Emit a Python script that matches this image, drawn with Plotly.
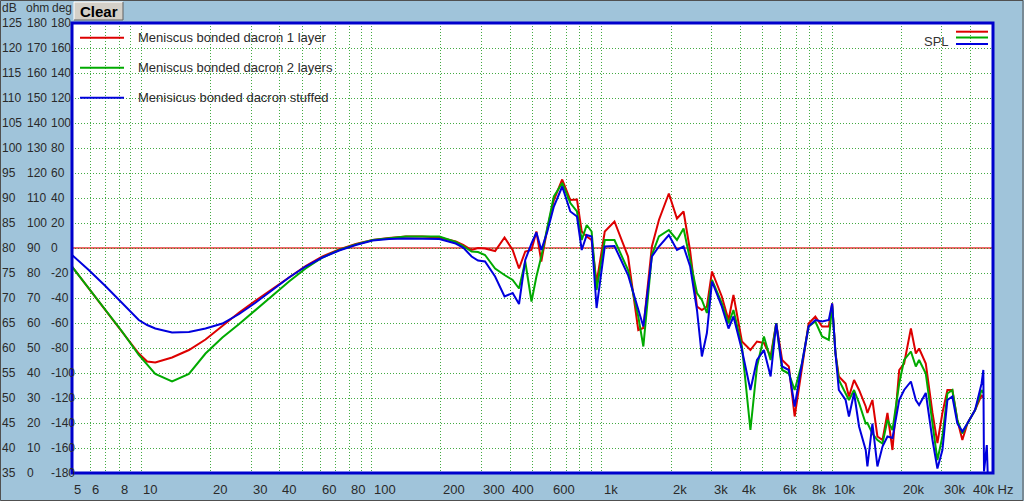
import numpy as np
import plotly.graph_objects as go

# ---------------- data ----------------
freqs = [5, 5.91, 6.98, 8.25, 9.75, 10.6, 11.5, 13.6, 16.1, 19.0, 22.5, 26.6, 31.4, 37.1,
         43.8, 51.7, 61.2, 72.3, 85.4, 101, 119, 141, 166, 197, 232,
         250, 272, 290, 311, 344, 378, 410, 437, 465, 495, 520, 546, 580, 619,
         673, 730, 780, 818, 860, 903, 949, 1030, 1135, 1300, 1440, 1515, 1650, 1770,
         1955, 2120, 2265, 2420, 2590, 2720, 2860, 3010, 3320, 3550, 3730, 4060, 4420,
         4720, 5060, 5410, 5720, 6070, 6490, 6880, 7400, 7910, 8460, 9050, 9680, 10010,
         10350, 10700, 11450, 11840, 12460, 13100, 14000, 14240, 14970, 15740, 16560,
         17400, 18300, 19570, 20560, 22000, 23110, 23880, 25530, 27300, 28680, 30150,
         31690, 33300, 35000, 36800, 38700, 41800, 44600, 45400, 45700, 47000, 47400]

one_layer = [76.3, 71.9, 67.6, 63.3, 58.9, 57.3, 57.1, 58.1, 59.6, 61.7, 64.4, 67.1, 69.5,
             71.8, 74.1, 76.4, 78.3, 79.7, 80.8, 81.6, 82.0, 82.3, 82.3, 82.1, 81.3,
             80.6, 79.6, 80.0, 79.9,
             79.4, 82.1, 79.6, 75.9, 79.3, 79.6, 83.3, 77.3, 83.9, 89.6, 93.7, 89.6, 89.7,
             83.3, 82.3, 81.6, 73.0, 83.3, 85.3, 78.3, 63.6, 64.0, 80.3, 85.6, 90.9, 85.9,
             87.3, 79.3, 68.3, 67.6, 68.3, 75.3, 70.3, 65.6, 70.6, 61.3, 59.6, 61.3, 61.0,
             58.3, 64.9, 57.6, 56.3, 46.3, 55.6, 64.9, 66.3, 64.3, 64.3, 68.9, 58.9, 54.3,
             52.9, 50.3, 53.6, 51.6, 48.3, 47.0, 49.6, 42.3, 41.6, 47.0, 39.6, 55.6, 56.9,
             63.9, 58.9, 59.9, 56.9, 47.0, 41.0, 47.0, 51.6, 51.6, 45.6, 41.6, 44.9, 47.6,
             50.6, 50.0, None, None, None]

two_layers = [76.3, 71.9, 67.7, 63.3, 58.6, 56.6, 54.8, 53.3, 54.8, 58.9, 62.1, 64.8, 67.6,
              70.4, 73.3, 75.9, 78.1, 79.6, 80.7, 81.6, 82.0, 82.3, 82.3, 82.3, 81.2,
              80.4, 79.3, 79.2, 78.6,
              75.9, 74.6, 73.6, 71.9, 77.3, 69.3, 74.3, 78.3, 84.3, 90.3, 93.0, 89.0, 87.3,
              81.6, 84.6, 83.3, 71.6, 81.6, 81.6, 75.6, 66.3, 60.3, 78.6, 82.3, 83.6, 81.6,
              83.9, 77.6, 71.0, 69.6, 67.0, 73.6, 69.0, 64.9, 67.6, 60.3, 43.6, 56.3, 62.3,
              57.6, 64.9, 55.6, 54.9, 51.6, 56.9, 64.3, 65.3, 62.3, 61.6, 68.5, 58.9, 53.6,
              51.0, 49.6, 51.6, 49.0, 44.9, 45.0, 42.9, 41.6, 40.9, 45.6, 43.6, 52.9, 57.6,
              59.3, 56.3, 57.6, 54.9, 44.3, 37.6, 42.3, 50.9, 51.6, 45.6, 42.9, 44.9, 47.6,
              51.6, 51.0, None, None, None]

stuffed = [78.6, 75.6, 72.4, 69.1, 65.6, 64.6, 63.9, 63.1, 63.2, 63.9, 64.9, 66.8, 69.1,
           71.6, 74.1, 76.3, 78.1, 79.5, 80.6, 81.5, 81.8, 81.9, 81.9, 81.8, 80.9,
           80.1, 78.3, 77.5, 77.3,
           74.3, 70.3, 71.0, 68.8, 77.6, 80.9, 83.1, 79.6, 83.3, 88.3, 92.3, 87.3, 86.3,
           79.6, 82.6, 82.3, 68.0, 80.3, 80.4, 74.6, 67.6, 64.3, 78.3, 80.3, 82.6, 79.6,
           80.3, 76.3, 67.6, 58.3, 63.0, 73.3, 68.3, 63.9, 66.3, 59.6, 51.6, 57.6, 59.6,
           54.3, 64.9, 56.3, 55.6, 48.3, 56.9, 64.3, 65.6, 65.3, 65.6, 68.9, 58.9, 51.6,
           49.6, 46.3, 51.0, 44.3, 39.6, 36.3, 44.9, 36.3, 40.3, 42.3, 42.0, 49.6, 51.6,
           53.3, 49.6, 48.6, 51.0, 41.6, 35.9, 39.6, 49.6, 50.3, 44.9, 43.3, 44.9, 47.6,
           52.9, 55.6, 35.3, 40.6, 35.2]

series_names = ["Meniscus bonded dacron 1 layer",
                "Meniscus bonded dacron 2 layers",
                "Menisicus bonded dacron stuffed"]
series_colors = ["#DD0000", "#00AA00", "#0000DD"]

db_ticks = list(range(35, 126, 5))
ohm_ticks = list(range(0, 181, 10))
deg_ticks = list(range(-180, 181, 20))

x_label_vals = [5, 6, 8, 10, 20, 30, 40, 60, 80, 100, 200, 300, 400, 600, 1000, 2000,
                3000, 4000, 6000, 8000, 10000, 20000, 30000, 40000]
x_label_text = ["5", "6", "8", "10", "20", "30", "40", "60", "80", "100", "200", "300",
                "400", "600", "1k", "2k", "3k", "4k", "6k", "8k", "10k", "20k", "30k",
                "40k Hz"]

REF_DB = 80
X_MIN, X_MAX = 5, 50000
Y_MIN, Y_MAX = 35, 125

# ---------------- layout geometry ----------------
W, H = 1024, 501
L, R, T, B = 72, 993, 23, 473
BG = "#A0C4DA"
FONT = "Liberation Sans, Arial, sans-serif"
TXT = "#2a2a2a"


def px(x):
    return (x - L) / (R - L)


def py(y):
    return (B - y) / (B - T)


grid_x = []
for dec in [1, 10, 100, 1000, 10000]:
    for m in range(1, 10):
        v = m * dec
        if X_MIN <= v <= X_MAX:
            grid_x.append(v)

fig = go.Figure()
series = [one_layer, two_layers, stuffed]
for name, ys, col in zip(series_names, series, series_colors):
    fig.add_trace(go.Scatter(x=freqs, y=ys, mode="lines", name=name,
                             line=dict(color=col, width=2), connectgaps=False,
                             showlegend=False, hoverinfo="skip"))

shapes = []
annotations = []

# reference line
shapes.append(dict(type="line", xref="paper", x0=0, x1=1, yref="y", y0=REF_DB, y1=REF_DB,
                   line=dict(color="#EC6A6A", width=2), layer="between"))
# plot border
shapes.append(dict(type="rect", xref="paper", yref="paper", x0=0, x1=1, y0=0, y1=1,
                   line=dict(color="#0000CC", width=3), layer="above"))

# legend (top-left)
for i, (name, col) in enumerate(zip(series_names, series_colors)):
    yy = 37.7 + 30 * i
    shapes.append(dict(type="line", xref="paper", yref="paper", x0=px(80), x1=px(124),
                       y0=py(yy), y1=py(yy), line=dict(color=col, width=2)))
    annotations.append(dict(xref="paper", yref="paper", x=px(136), y=py(yy), text=name,
                            showarrow=False, xanchor="left", yanchor="middle",
                            font=dict(family=FONT, size=13, color=TXT)))

# SPL legend (top-right)
annotations.append(dict(xref="paper", yref="paper", x=px(951), y=py(41), text="SPL",
                        showarrow=False, xanchor="right", yanchor="middle",
                        font=dict(family=FONT, size=13, color="#333333")))
for col, yy in zip(series_colors, [31.7, 37.5, 44]):
    shapes.append(dict(type="line", xref="paper", yref="paper", x0=px(956), x1=px(988),
                       y0=py(yy), y1=py(yy), line=dict(color=col, width=2)))

# y-axis label columns
for col_x, vals in zip([0, 25, 49], [db_ticks, ohm_ticks, deg_ticks]):
    for dbv, v in zip(db_ticks, vals):
        annotations.append(dict(xref="paper", yref="y", x=px(col_x), y=dbv, text=str(v),
                                showarrow=False, xanchor="left", yanchor="middle",
                                font=dict(family=FONT, size=12, color=TXT)))
for col_x, t in zip([0, 24, 50], ["dB", "ohm", "deg"]):
    annotations.append(dict(xref="paper", yref="paper", x=px(col_x), y=py(8), text=t,
                            showarrow=False, xanchor="left", yanchor="middle",
                            font=dict(family=FONT, size=12, color=TXT)))

# x-axis labels (left aligned at gridline)
for v, t in zip(x_label_vals, x_label_text):
    annotations.append(dict(xref="x", yref="paper", x=np.log10(v), y=py(490), text=t,
                            showarrow=False, xanchor="left", yanchor="middle", xshift=0,
                            font=dict(family=FONT, size=13, color=TXT)))

# Clear button
shapes.append(dict(type="rect", xref="paper", yref="paper", x0=px(74), x1=px(123),
                   y0=py(20), y1=py(2), fillcolor="#D4D0C8", line=dict(width=0)))
shapes.append(dict(type="path", xref="paper", yref="paper",
                   path=f"M {px(74)},{py(20)} L {px(74)},{py(2)} L {px(123)},{py(2)}",
                   line=dict(color="#FFFFFF", width=1)))
shapes.append(dict(type="path", xref="paper", yref="paper",
                   path=f"M {px(74)},{py(20)} L {px(123)},{py(20)} L {px(123)},{py(2)}",
                   line=dict(color="#606060", width=1)))
annotations.append(dict(xref="paper", yref="paper", x=px(98.5), y=py(11.5), text="<b>Clear</b>",
                        showarrow=False, xanchor="center", yanchor="middle",
                        font=dict(family=FONT, size=15, color="#000000")))

# outer frame
shapes.append(dict(type="rect", xref="paper", yref="paper", x0=px(0.5), x1=px(W - 1),
                   y0=py(H - 0.5), y1=py(0.5), line=dict(color="#505050", width=1)))

grid_style = dict(showgrid=True, gridcolor="rgba(20,150,20,0.8)", gridwidth=1,
                  griddash="1px,2px", zeroline=False, showline=False, ticks="",
                  showticklabels=False)

fig.update_layout(
    width=W, height=H,
    margin=dict(l=L, r=W - R, t=T, b=H - B, pad=0),
    paper_bgcolor=BG, plot_bgcolor="#FFFFFF",
    xaxis=dict(type="log", range=[np.log10(X_MIN), np.log10(X_MAX)], tickvals=grid_x,
               **grid_style),
    yaxis=dict(range=[Y_MIN, Y_MAX], tickvals=db_ticks, **grid_style),
    shapes=shapes, annotations=annotations,
    showlegend=False,
)

fig.write_html("out.html", config={"displayModeBar": False},
               post_script="document.body.style.margin='0px';document.body.style.overflow='hidden';")
